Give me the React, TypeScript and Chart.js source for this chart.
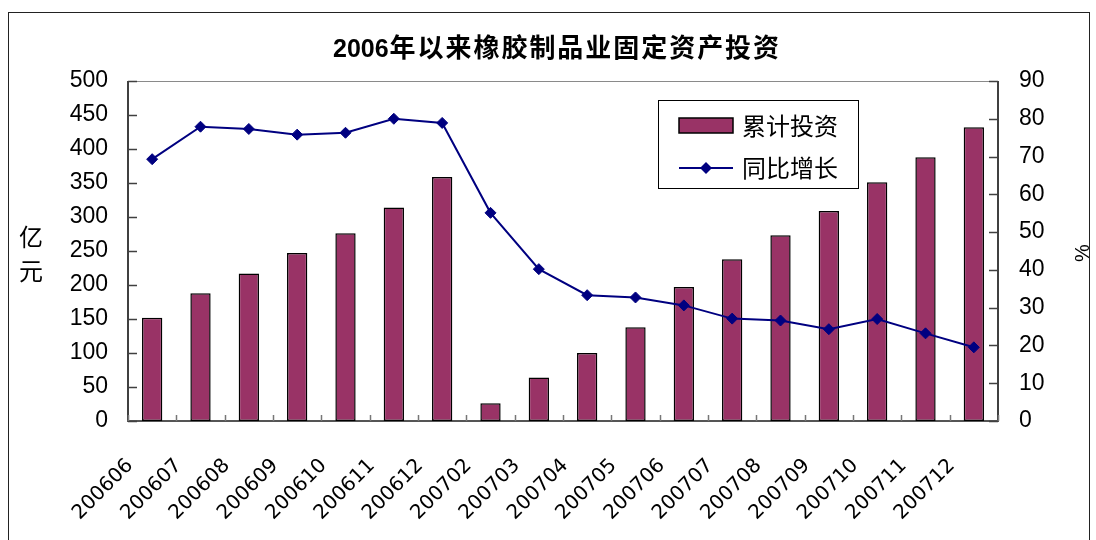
import React, { useEffect, useRef } from "react";
import { Chart, registerables } from "chart.js";

Chart.register(...registerables);

const TITLE = "2006年以来橡胶制品业固定资产投资";
const categories = [
  "200606", "200607", "200608", "200609", "200610", "200611", "200612",
  "200702", "200703", "200704", "200705", "200706", "200707", "200708",
  "200709", "200710", "200711", "200712",
];
const investment = [152, 188, 217, 247, 276, 314, 359, 26, 64, 100, 138, 197, 238, 273, 309, 351, 388, 432];
const growth = [69.3, 77.9, 77.3, 75.8, 76.3, 80.0, 78.9, 55.1, 40.2, 33.3, 32.7, 30.6, 27.1, 26.6, 24.3, 27.0, 23.2, 19.5];
const seriesNames = ["累计投资", "同比增长"];
const leftAxisTitle = ["亿", "元"];
const rightAxisTitle = "%";

const BAR_COLOR = "#993366";
const LINE_COLOR = "#000080";
const CJK = "'Noto Sans CJK SC'";

const decorPlugin = {
  id: "decor",
  beforeDatasetsDraw(chart: any) {
    const { ctx, chartArea } = chart;
    const { left, right, top, bottom } = chartArea;
    const x = chart.scales.x;
    const y = chart.scales.y;
    const y1 = chart.scales.y1;
    ctx.save();
    ctx.strokeStyle = "#8a8a8a";
    ctx.lineWidth = 1;
    ctx.beginPath();
    ctx.moveTo(left, top + 0.5);
    ctx.lineTo(right, top + 0.5);
    ctx.stroke();
    ctx.strokeStyle = "#404040";
    ctx.lineWidth = 2;
    ctx.beginPath();
    ctx.moveTo(left, top);
    ctx.lineTo(left, bottom);
    ctx.moveTo(right, top);
    ctx.lineTo(right, bottom);
    ctx.stroke();
    ctx.strokeStyle = "#555";
    ctx.beginPath();
    ctx.moveTo(left - 1, bottom);
    ctx.lineTo(right + 1, bottom);
    ctx.stroke();
    ctx.lineWidth = 1.5;
    ctx.strokeStyle = "#404040";
    ctx.beginPath();
    y.ticks.forEach((t: any) => {
      const py = Math.round(y.getPixelForValue(t.value)) + 0.5;
      ctx.moveTo(left, py);
      ctx.lineTo(left + 9, py);
    });
    y1.ticks.forEach((t: any) => {
      const py = Math.round(y1.getPixelForValue(t.value)) + 0.5;
      ctx.moveTo(right - 9, py);
      ctx.lineTo(right, py);
    });
    ctx.stroke();
    ctx.strokeStyle = "#777";
    ctx.beginPath();
    for (let i = 0; i <= categories.length; i++) {
      const px = Math.round(x.getPixelForValue(i - 0.5)) + 0.5;
      ctx.moveTo(px, bottom);
      ctx.lineTo(px, bottom - 6);
    }
    ctx.stroke();
    ctx.restore();
  },
  afterDraw(chart: any) {
    const { ctx } = chart;
    ctx.save();
    ctx.strokeStyle = "#222";
    ctx.lineWidth = 1;
    ctx.strokeRect(8.5, 12.5, 1081, 600);

    ctx.fillStyle = "#000";
    ctx.textBaseline = "alphabetic";
    ctx.textAlign = "left";
    const digits = TITLE.slice(0, 4);
    const rest = TITLE.slice(4);
    ctx.font = "bold 25px 'Liberation Sans'";
    const startX = 333;
    ctx.fillText(digits, startX, 57);
    const dw = ctx.measureText(digits).width;
    ctx.font = `bold 26px ${CJK}`;
    const rw = ctx.measureText(rest).width;
    const target = 780 - (startX + dw);
    const sp = (target - rw) / rest.length;
    (ctx as any).letterSpacing = `${sp}px`;
    ctx.fillText(rest, startX + dw + 1, 57);
    (ctx as any).letterSpacing = "0px";

    ctx.font = `24px ${CJK}`;
    ctx.textAlign = "center";
    ctx.textBaseline = "middle";
    ctx.fillText(leftAxisTitle[0], 31, 237);
    ctx.fillText(leftAxisTitle[1], 31, 271);

    ctx.save();
    ctx.translate(1083, 253);
    ctx.rotate(-Math.PI / 2);
    ctx.font = "20px 'Liberation Sans'";
    ctx.fillText(rightAxisTitle, 0, 0);
    ctx.restore();

    const bx = 658.5, by = 100.5, bw = 200, bh = 88;
    ctx.fillStyle = "#fff";
    ctx.fillRect(bx, by, bw, bh);
    ctx.strokeStyle = "#000";
    ctx.lineWidth = 1;
    ctx.strokeRect(bx, by, bw, bh);
    const ds = chart.data.datasets;
    ctx.fillStyle = ds[0].backgroundColor;
    ctx.fillRect(679, 118, 54, 15);
    ctx.strokeStyle = "#000";
    ctx.lineWidth = 1.5;
    ctx.strokeRect(679, 118, 54, 15);
    ctx.strokeStyle = ds[1].borderColor;
    ctx.lineWidth = 2;
    ctx.beginPath();
    ctx.moveTo(679, 168);
    ctx.lineTo(733, 168);
    ctx.stroke();
    ctx.fillStyle = ds[1].borderColor;
    ctx.beginPath();
    ctx.moveTo(706, 162);
    ctx.lineTo(712, 168);
    ctx.lineTo(706, 174);
    ctx.lineTo(700, 168);
    ctx.closePath();
    ctx.fill();
    ctx.fillStyle = "#000";
    ctx.font = `24px ${CJK}`;
    ctx.textAlign = "left";
    ctx.textBaseline = "middle";
    ctx.fillText(ds[0].label, 742, 126);
    ctx.fillText(ds[1].label, 742, 168);
    ctx.restore();
  },
};

export default function App() {
  const ref = useRef<HTMLCanvasElement>(null);
  useEffect(() => {
    if (!ref.current) return;
    const tickFont = { family: "'Liberation Sans'", size: 23 };
    const chart = new Chart(ref.current, {
      type: "bar",
      data: {
        labels: categories,
        datasets: [
          {
            type: "bar",
            label: seriesNames[0],
            data: investment,
            backgroundColor: BAR_COLOR,
            borderColor: "#000",
            borderWidth: 1.5,
            borderSkipped: false,
            barPercentage: 1,
            categoryPercentage: 0.42,
            yAxisID: "y",
            order: 2,
          },
          {
            type: "line",
            label: seriesNames[1],
            data: growth,
            borderColor: LINE_COLOR,
            borderWidth: 2,
            pointStyle: "rectRot",
            pointRadius: 5.5,
            pointBorderWidth: 1,
            pointBackgroundColor: LINE_COLOR,
            pointBorderColor: LINE_COLOR,
            tension: 0,
            yAxisID: "y1",
            order: 1,
          },
        ],
      } as any,
      options: {
        responsive: false,
        animation: false,
        devicePixelRatio: 1,
        layout: { padding: { top: 81, left: 0, right: 0, bottom: 0 } },
        plugins: {
          legend: { display: false },
          title: { display: false },
          tooltip: { enabled: false },
        },
        scales: {
          x: {
            type: "category",
            offset: true,
            grid: { display: false, drawTicks: false },
            border: { display: false },
            ticks: {
              autoSkip: false,
              maxRotation: 45,
              minRotation: 45,
              color: "#000",
              font: { family: "'DejaVu Sans'", size: 20 },
              padding: 33,
              labelOffset: -22,
            },
            afterFit: (s: any) => {
              s.height = 119;
            },
          },
          y: {
            position: "left",
            min: 0,
            max: 500,
            ticks: { stepSize: 50, color: "#000", font: tickFont, padding: 20 },
            grid: { display: false, drawTicks: false },
            border: { display: false },
            afterFit: (s: any) => {
              s.width = 128;
            },
          },
          y1: {
            position: "right",
            min: 0,
            max: 90,
            ticks: { stepSize: 10, color: "#000", font: tickFont, padding: 21 },
            grid: { display: false, drawTicks: false },
            border: { display: false },
            afterFit: (s: any) => {
              s.width = 98;
            },
          },
        },
      } as any,
      plugins: [decorPlugin],
    });
    return () => chart.destroy();
  }, []);
  return (
    <div style={{ position: "fixed", left: 0, top: 0, width: 1096, height: 540, background: "#fff" }}>
      <canvas ref={ref} width={1096} height={540} />
    </div>
  );
}
